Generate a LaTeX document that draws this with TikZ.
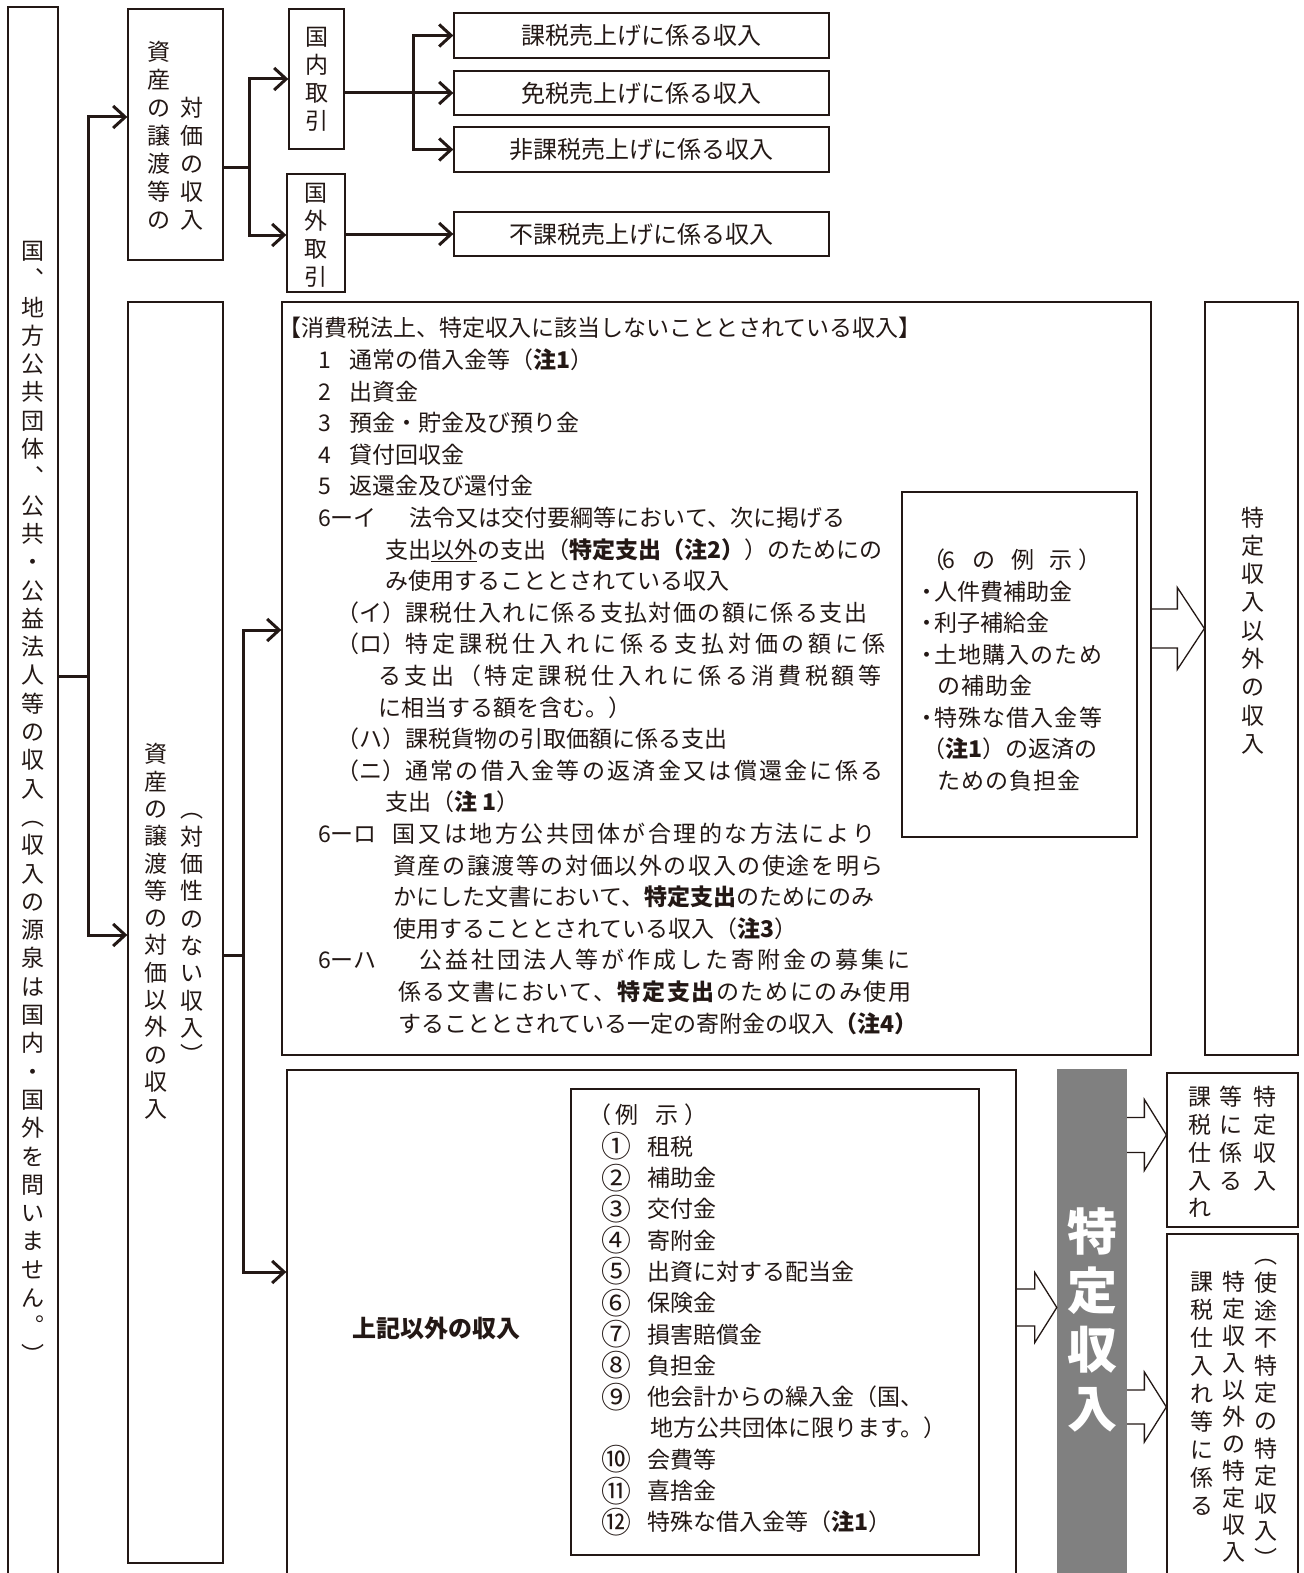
\documentclass[tikz,border=0pt]{standalone}
\usepackage{fontspec}
\usepackage{graphicx}
\setmainfont{Noto Sans CJK JP}
\usetikzlibrary{arrows.meta,calc}

\definecolor{sumi}{RGB}{35,24,21}
\definecolor{hainiro}{RGB}{128,128,128}

% strut that holds one full em box
\newcommand{\js}{\rule[-0.12em]{0pt}{1em}}
% letter spacing for a stretched line
\newcommand{\jikan}[2]{{\addfontfeature{LetterSpace=#1}#2}}
% enlarged circled number
\newcommand{\maru}[1]{\makebox[1em]{\raisebox{-0.11em}{\scalebox{1.3}{#1}}}}

% vertical text: one character per row
\ExplSyntaxOn
\NewDocumentCommand{\tate}{m}
 {
  \vbox:n
   {
    \tl_map_inline:nn {#1}
     { \hbox_to_wd:nn {1em} { \hss \js ##1 \hss } }
   }
 }
\ExplSyntaxOff

% hollow block arrow: start, tip, shaft half, head half, head length
\newcommand{\futoya}[5]{%
  \draw[futo] let \p1=#1, \p2=#2 in
    (\x1,\y2+#3) -- (\x2-#5,\y2+#3) -- (\x2-#5,\y2+#4) -- (\p2)
    -- (\x2-#5,\y2-#4) -- (\x2-#5,\y2-#3) -- (\x1,\y2-#3);}

\begin{document}
\begin{tikzpicture}[x=1pt,y=1pt,yscale=-1,xscale=1,
  waku/.style={draw=sumi,line width=1.3pt,inner sep=0pt},
  moji/.style={text=sumi,inner sep=0pt,font=\fontsize{23}{31.6}\selectfont},
  tatemoji/.style={text=sumi,inner sep=0pt,font=\fontsize{23}{#1}\selectfont},
  tatemoji/.default=28,
  sen/.style={draw=sumi,line width=3pt},
  ya/.style={sen,-{Straight Barb[length=12pt,width=22pt]}},
  futo/.style={draw=sumi,line width=1.3pt,line join=miter}]

		% Page frame: 1303 x 1573
		\useasboundingbox (0,0) rectangle (1303,1573);
		\clip (0,0) rectangle (1303,1573);

		% Left column box (runs off the bottom)
		\node[waku,minimum width=50pt,minimum height=1583pt] (kokuchi) at (33,798.5) {};
		\node[tatemoji=28.3] (kokuchi-t) at (33,802.5) {\tate{国︑地方公共団体︑公共・公益法人等の収入︵収入の源泉は国内・国外を問いません︒︶}};

		% Second column boxes
		\node[waku,minimum width=95pt,minimum height=251pt] (taika) at (175.5,134.5) {};
		\node[tatemoji] (taika-t1) at (159,136) {\tate{資産の譲渡等の}};
		\node[tatemoji] (taika-t2) at (192,163.5) {\tate{対価の収入}};

		\node[waku,minimum width=95pt,minimum height=1261pt] (igai) at (175.5,932.5) {};
		\node[tatemoji=27.3] (igai-t1) at (156,931.5) {\tate{資産の譲渡等の対価以外の収入}};
		\node[tatemoji=27.3] (igai-t2) at (192,932) {\tate{︵対価性のない収入︶}};

		% Domestic / foreign boxes
		\node[waku,minimum width=55pt,minimum height=140pt] (kokunai) at (316.5,79) {};
		\node[tatemoji] (kokunai-t) at (317,78.5) {\tate{国内取引}};
		\node[waku,minimum width=58pt,minimum height=118pt] (kokugai) at (316,233) {};
		\node[tatemoji] (kokugai-t) at (316,234.5) {\tate{国外取引}};

		% Sales boxes
		\node[waku,minimum width=375pt,minimum height=45pt,font=\fontsize{24}{28}\selectfont,text=sumi] (uri1) at (641.5,35.5) {課税売上げに係る収入};
		\node[waku,minimum width=375pt,minimum height=44pt,font=\fontsize{24}{28}\selectfont,text=sumi] (uri2) at (641.5,93) {免税売上げに係る収入};
		\node[waku,minimum width=375pt,minimum height=45pt,font=\fontsize{24}{28}\selectfont,text=sumi] (uri3) at (641.5,149.5) {非課税売上げに係る収入};
		\node[waku,minimum width=375pt,minimum height=44pt,font=\fontsize{24}{28}\selectfont,text=sumi] (uri4) at (641.5,234) {不課税売上げに係る収入};

		% Big box: income not counted as specified income
		\node[waku,minimum width=869pt,minimum height=753pt] (hikazei) at (716.5,678.5) {};
		\node[moji,align=left,anchor=north west] (hikazei-t) at (284,316.5) {%
\js\hspace*{-6pt}【消費税法上、特定収入に該当しないこととされている収入】\\
\js\hspace*{34pt}1\hspace*{19pt}通常の借入金等（\textbf{注1}）\\
\js\hspace*{34pt}2\hspace*{19pt}出資金\\
\js\hspace*{34pt}3\hspace*{19pt}預金・貯金及び預り金\\
\js\hspace*{34pt}4\hspace*{19pt}貸付回収金\\
\js\hspace*{34pt}5\hspace*{19pt}返還金及び還付金\\
\js\hspace*{34pt}6ーイ\hspace*{33pt}法令又は交付要綱等において、次に掲げる\\
\js\hspace*{101pt}支出\underline{以外}の支出（\textbf{特定支出（注2）}）のためにの\\
\js\hspace*{101pt}み使用することとされている収入\\
\js\hspace*{52pt}（イ）\jikan{6}{課税仕入れに係る支払対価の額に係る支出}\\
\js\hspace*{52pt}（ロ）\jikan{17}{特定課税仕入れに係る支払対価の額に係}\\
\js\hspace*{94pt}\jikan{16}{る支出（特定課税仕入れに係る消費税額等}\\
\js\hspace*{94pt}に相当する額を含む。）\\
\js\hspace*{52pt}（ハ）課税貨物の引取価額に係る支出\\
\js\hspace*{52pt}（ニ）\jikan{10}{通常の借入金等の返済金又は償還金に係る}\\
\js\hspace*{101pt}支出（\textbf{注 1}）\\
\js\hspace*{34pt}6ーロ\hspace*{16pt}\jikan{11}{国又は地方公共団体が合理的な方法により}\\
\js\hspace*{109pt}\jikan{7}{資産の譲渡等の対価以外の収入の使途を明ら}\\
\js\hspace*{109pt}かにした文書において、\textbf{特定支出}のためにのみ\\
\js\hspace*{109pt}使用することとされている収入（\textbf{注3}）\\
\js\hspace*{34pt}6ーハ\hspace*{43pt}\jikan{13}{公益社団法人等が作成した寄附金の募集に}\\
\js\hspace*{114pt}\jikan{7}{係る文書において、\textbf{特定支出}のためにのみ使用}\\
\js\hspace*{114pt}することとされている一定の寄附金の収入\textbf{（注4）}};

		% Examples for item 6
		\node[waku,minimum width=235pt,minimum height=345pt] (rei6) at (1019.5,664.5) {};
		\node[moji,align=left,anchor=north west,font=\fontsize{23}{31.5}\selectfont] (rei6-t) at (922,548.5) {%
\js（\hspace{-3pt}6\hspace{18pt}の\hspace{16pt}例\hspace{15pt}示\hspace{6pt}）\\
\js\hspace*{-6.5pt}・\hspace{-4.5pt}人件費補助金\\
\js\hspace*{-6.5pt}・\hspace{-4.5pt}利子補給金\\
\js\hspace*{-6.5pt}・\hspace{-4.5pt}\jikan{5}{土地購入のため}\\
\js\hspace*{15pt}\jikan{5}{の補助金}\\
\js\hspace*{-6.5pt}・\hspace{-4.5pt}\jikan{5}{特殊な借入金等}\\
\js（\textbf{注1}）の返済の\\
\js\hspace*{15pt}\jikan{5}{ための負担金}};

		% Non-specified income box on the right
		\node[waku,minimum width=93pt,minimum height=753pt] (tokuigai) at (1251.5,678.5) {};
		\node[tatemoji=28.3] (tokuigai-t) at (1253,630.5) {\tate{特定収入以外の収入}};

		% Lower box: other income
		\node[waku,minimum width=729pt,minimum height=520pt] (joki) at (651.5,1330) {};
		\node[moji,font=\fontsize{24}{28}\selectfont\bfseries] (joki-t) at (436,1328) {上記以外の収入};

		\node[waku,minimum width=408pt,minimum height=466pt] (rei) at (775,1322) {};
		\node[moji,align=left,anchor=north west,font=\fontsize{23}{31.3}\selectfont] (rei-t) at (588,1103.5) {%
\js（\hspace{4pt}例\hspace{17pt}示\hspace{6pt}）\\
\js\hspace*{17pt}\maru{①}\hspace{19pt}租税\\
\js\hspace*{17pt}\maru{②}\hspace{19pt}補助金\\
\js\hspace*{17pt}\maru{③}\hspace{19pt}交付金\\
\js\hspace*{17pt}\maru{④}\hspace{19pt}寄附金\\
\js\hspace*{17pt}\maru{⑤}\hspace{19pt}出資に対する配当金\\
\js\hspace*{17pt}\maru{⑥}\hspace{19pt}保険金\\
\js\hspace*{17pt}\maru{⑦}\hspace{19pt}損害賠償金\\
\js\hspace*{17pt}\maru{⑧}\hspace{19pt}負担金\\
\js\hspace*{17pt}\maru{⑨}\hspace{19pt}他会計からの繰入金（国、\\
\js\hspace*{62pt}地方公共団体に限ります。）\\
\js\hspace*{17pt}\maru{⑩}\hspace{19pt}会費等\\
\js\hspace*{17pt}\maru{⑪}\hspace{19pt}喜捨金\\
\js\hspace*{17pt}\maru{⑫}\hspace{19pt}特殊な借入金等（\textbf{注1}）};

		% Grey bar: specified income
		\node[fill=hainiro,inner sep=0pt,minimum width=70pt,minimum height=521pt] (hai) at (1092,1329.5) {};
		\node[inner sep=0pt,text=white,font=\fontsize{50}{59}\selectfont\bfseries] (hai-t) at (1092,1320) {\tate{特定収入}};

		% Boxes right of the grey bar
		\node[waku,minimum width=131pt,minimum height=154pt] (kazei1) at (1232.5,1150) {};
		\node[tatemoji=27.7,anchor=north] (kazei1-t1) at (1265,1085.5) {\tate{特定収入}};
		\node[tatemoji=27.7,anchor=north] (kazei1-t2) at (1231,1085.5) {\tate{等に係る}};
		\node[tatemoji=27.7,anchor=north] (kazei1-t3) at (1200,1085.5) {\tate{課税仕入れ}};

		\node[waku,minimum width=131pt,minimum height=356pt] (kazei2) at (1232.5,1412) {};
		\node[tatemoji=27.6,anchor=north] (kazei2-t1) at (1266,1243.5) {\tate{︵使途不特定の特定収入︶}};
		\node[tatemoji=27,anchor=north] (kazei2-t2) at (1234,1270.5) {\tate{特定収入以外の特定収入}};
		\node[tatemoji=28,anchor=north] (kazei2-t3) at (1202,1270.5) {\tate{課税仕入れ等に係る}};

		% Trunk from the left box
		\coordinate (miki) at (88,676);
		\draw[sen] (kokuchi.east |- miki) -- (miki);
		\draw[ya] (miki) |- (taika.west |- 0,117);
		\draw[ya] (miki) |- (igai.west |- 0,935);

		% Branch to domestic / foreign
		\coordinate (eda1) at (249,168);
		\draw[sen] (taika.east |- eda1) -- (eda1);
		\draw[ya] (eda1) |- (kokunai.west);
		\draw[ya] (eda1) |- (kokugai.west |- 0,235);

		% Domestic to the three sales boxes
		\coordinate (eda2) at (413,93);
		\draw[ya] (kokunai.east |- eda2) -- (uri2.west);
		\draw[ya] (eda2) |- (uri1.west);
		\draw[ya] (eda2) |- (uri3.west);

		% Foreign to its sales box
		\draw[ya] (kokugai.east |- uri4.west) -- (uri4.west);

		% Branch from the non-consideration box
		\coordinate (eda3) at (243,955);
		\draw[sen] (igai.east |- eda3) -- (eda3);
		\draw[ya] (eda3) |- (hikazei.west |- 0,630);
		\draw[ya] (eda3) |- (joki.west |- 0,1272);

		% Hollow arrows
		\futoya{(hikazei.east)}{(tokuigai.west |- 0,628.5)}{19.5pt}{41pt}{27pt}
		\futoya{(joki.east)}{(hai.west |- 0,1307.5)}{18.5pt}{35pt}{22pt}
		\futoya{(hai.east)}{(kazei1.west |- 0,1135)}{17.5pt}{35.5pt}{22pt}
		\futoya{(hai.east)}{(kazei2.west |- 0,1407)}{17pt}{35pt}{22pt}
\end{tikzpicture}
\end{document}
